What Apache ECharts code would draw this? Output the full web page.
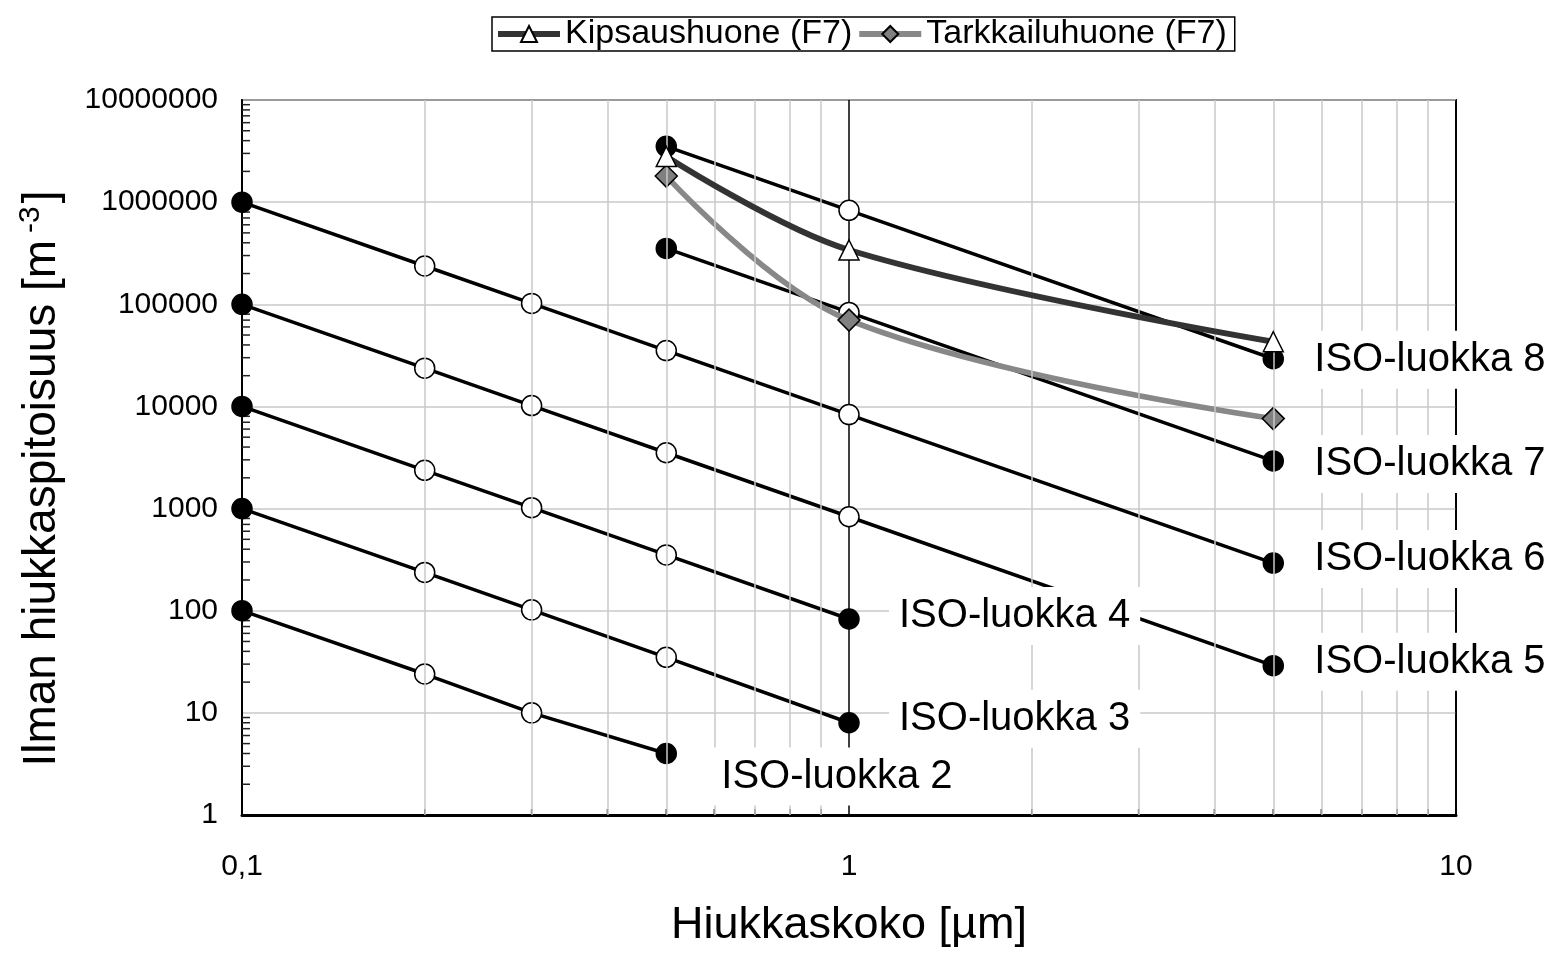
<!DOCTYPE html>
<html>
<head>
<meta charset="utf-8">
<script src="https://cdn.jsdelivr.net/npm/echarts@6/dist/echarts.min.js"></script>
<style>
html,body{margin:0;padding:0;background:#fff;}
#chart{width:1556px;height:953px;}
</style>
</head>
<body>
<div id="chart"></div>
<script>
// hiukkaskoot (µm)
var sizesLow = [0.1, 0.2, 0.3, 0.5, 1, 5];
var sizesHigh = [0.5, 1, 5];

// ISO 14644-1 raja-arvot
var iso2 = [100, 24, 10, 4];
var iso3 = [1000, 237, 102, 35, 8];
var iso4 = [10000, 2370, 1020, 352, 83];
var iso5 = [100000, 23700, 10200, 3520, 832, 29];
var iso6 = [1000000, 237000, 102000, 35200, 8320, 293];
var iso7 = [352000, 83200, 2930];
var iso8 = [3520000, 832000, 29300];

// mittaukset
var measX = [0.5, 1, 5];
var kipsaus = [2800000, 340000, 43000];
var tarkkailu = [1800000, 70000, 7600];

// apuviivat
var minorSteps = [2, 3, 4, 5, 6, 7, 8, 9];
var xDecades = [0.1, 1];
var yDecades = [1, 10, 100, 1000, 10000, 100000, 1000000];

var FONT = "Liberation Sans, Arial, sans-serif";

// luokkien tekstien siirrot (distance, dy)
var labelOffsets = {
	'ISO-luokka 2':[35, 23],
	'ISO-luokka 3':[30, -4],
	'ISO-luokka 4':[30, -3],
	'ISO-luokka 5':[21, -4],
	'ISO-luokka 6':[21, -4],
	'ISO-luokka 7':[21, 3],
	'ISO-luokka 8':[21, 1]
};

var labelItems = [];

function isoSeries(name, xs, ys){
	var data = [];
	for(var i=0;i<ys.length;i++){
		var end = (i==0 || i==ys.length-1);
		data.push({
			value:[xs[i], ys[i]],
			itemStyle:{color: end ? '#000' : '#fff', borderColor:'#000', borderWidth:1.5}
		});
	}
	var off = labelOffsets[name];
	var last = ys.length-1;
	labelItems.push({
		value:[xs[last], ys[last]],
		label:{
			show:true,
			position:'right',
			distance: off[0] + 10,
			offset:[0, off[1]],
			formatter: name
		}
	});
	return {
		name:name,
		type:'line',
		data:data,
		symbol:'circle',
		symbolSize:20,
		lineStyle:{color:'#000', width:3.5},
		z:3,
		silent:true
	};
}

// vertikaaliset apuviivat + tikit
var minorX = [], minorXTicks = [];
for(var d=0; d<xDecades.length; d++){
	for(var s=0; s<minorSteps.length; s++){
		var xv = +(xDecades[d]*minorSteps[s]).toPrecision(3);
		minorX.push({xAxis: xv});
		minorXTicks.push([xv, 1]);
	}
}
// y-akselin pikkutikit
var minorY = [];
for(var d2=0; d2<yDecades.length; d2++){
	for(var s2=0; s2<minorSteps.length; s2++){
		minorY.push([0.1, yDecades[d2]*minorSteps[s2]]);
	}
}

var chart = echarts.init(document.getElementById('chart'));

var series = [
	{
		name:'yticks',
		type:'custom',
		data:minorY,
		z:2,
		silent:true,
		renderItem:function(params, api){
			var p = api.coord([api.value(0), api.value(1)]);
			return {type:'line', shape:{x1:p[0], y1:p[1], x2:p[0]+8, y2:p[1]}, style:{stroke:'#222', lineWidth:1.5}};
		},
		markLine:{
			silent:true,
			symbol:'none',
			label:{show:false},
			lineStyle:{color:'#c8c8c8', width:1.5, type:'solid'},
			data:minorX,
			animation:false
		}
	},
	{
		name:'xticks',
		type:'custom',
		data:minorXTicks,
		z:2,
		silent:true,
		renderItem:function(params, api){
			var p = api.coord([api.value(0), api.value(1)]);
			return {type:'line', shape:{x1:p[0], y1:p[1], x2:p[0], y2:p[1]-6}, style:{stroke:'#222', lineWidth:1.5}};
		}
	},
	isoSeries('ISO-luokka 2', sizesLow, iso2),
	isoSeries('ISO-luokka 3', sizesLow, iso3),
	isoSeries('ISO-luokka 4', sizesLow, iso4),
	isoSeries('ISO-luokka 5', sizesLow, iso5),
	isoSeries('ISO-luokka 6', sizesLow, iso6),
	isoSeries('ISO-luokka 7', sizesHigh, iso7),
	isoSeries('ISO-luokka 8', sizesHigh, iso8),
	{
		name:'Kipsaushuone (F7)',
		type:'line',
		data:measX.map(function(x,i){return [x, kipsaus[i]];}),
		smooth:0.35,
		symbol:'triangle',
		symbolSize:20,
		itemStyle:{color:'#fff', borderColor:'#000', borderWidth:1.5},
		lineStyle:{color:'#333', width:6},
		z:5
	},
	{
		name:'Tarkkailuhuone (F7)',
		type:'line',
		data:measX.map(function(x,i){return [x, tarkkailu[i]];}),
		smooth:0.37,
		symbol:'diamond',
		symbolSize:22,
		itemStyle:{color:'#808080', borderColor:'#000', borderWidth:1.5},
		lineStyle:{color:'#888', width:5.5},
		z:4
	},
	{
		name:'luokat',
		type:'scatter',
		data:labelItems,
		symbol:'circle',
		symbolSize:0,
		itemStyle:{color:'#fff', opacity:1},
		z:10,
		silent:true,
		label:{
			show:true,
			fontSize:40,
			fontFamily:FONT,
			color:'#000',
			opacity:1,
			backgroundColor:'#fff',
			padding:[9,10,9,10]
		}
	}
];

var option = {
	animation:false,
	backgroundColor:'#fff',
	textStyle:{fontFamily:FONT},
	legend:{
		data:['Kipsaushuone (F7)','Tarkkailuhuone (F7)'],
		left:492,
		top:17,
		itemWidth:62,
		itemHeight:20,
		itemGap:4,
		padding:[0,8,0,3],
		borderColor:'#000',
		borderWidth:1.5,
		lineStyle:{width:6},
		textStyle:{fontSize:34, color:'#000', fontFamily:FONT}
	},
	grid:{left:242, right:100, top:100, bottom:133, containLabel:false,
		show:true, borderColor:'#111', borderWidth:2, backgroundColor:'transparent'},
	xAxis:{
		type:'log',
		logBase:10,
		min:0.1,
		max:10,
		interval:1,
		name:'Hiukkaskoko [µm]',
		nameLocation:'middle',
		nameGap:88,
		nameTextStyle:{fontSize:45, color:'#000', fontFamily:FONT},
		axisLine:{lineStyle:{color:'#000', width:3}},
		axisTick:{show:false},
		axisLabel:{
			fontSize:30, color:'#000', margin:37, fontFamily:FONT,
			formatter:function(v){
				var t = v < 1 ? v.toFixed(1) : String(Math.round(v));
				return t.replace('.', ',');
			}
		},
		splitLine:{show:true, lineStyle:{color:'#000', width:1.5}}
	},
	yAxis:{
		type:'log',
		logBase:10,
		min:1,
		max:10000000,
		interval:1,
		name:'{a|Ilman hiukkaspitoisuus [m}{s|-3}{a|]}',
		nameLocation:'middle',
		nameGap:174,
		nameTextStyle:{
			color:'#000',
			fontFamily:FONT,
			padding:[0,42,0,0],
			rich:{
				a:{fontSize:46, color:'#000', fontFamily:FONT},
				s:{fontSize:30, color:'#000', fontFamily:FONT, verticalAlign:'top', padding:[0,3,22,7]}
			}
		},
		axisLine:{lineStyle:{color:'#000', width:2}},
		axisTick:{show:false},
		axisLabel:{
			fontSize:30, color:'#000', margin:24, fontFamily:FONT,
			formatter:function(v){ return String(Math.round(v)); }
		},
		splitLine:{show:true, lineStyle:{color:'#c8c8c8', width:1.5}}
	},
	series:series
};

chart.setOption(option);
</script>
</body>
</html>
